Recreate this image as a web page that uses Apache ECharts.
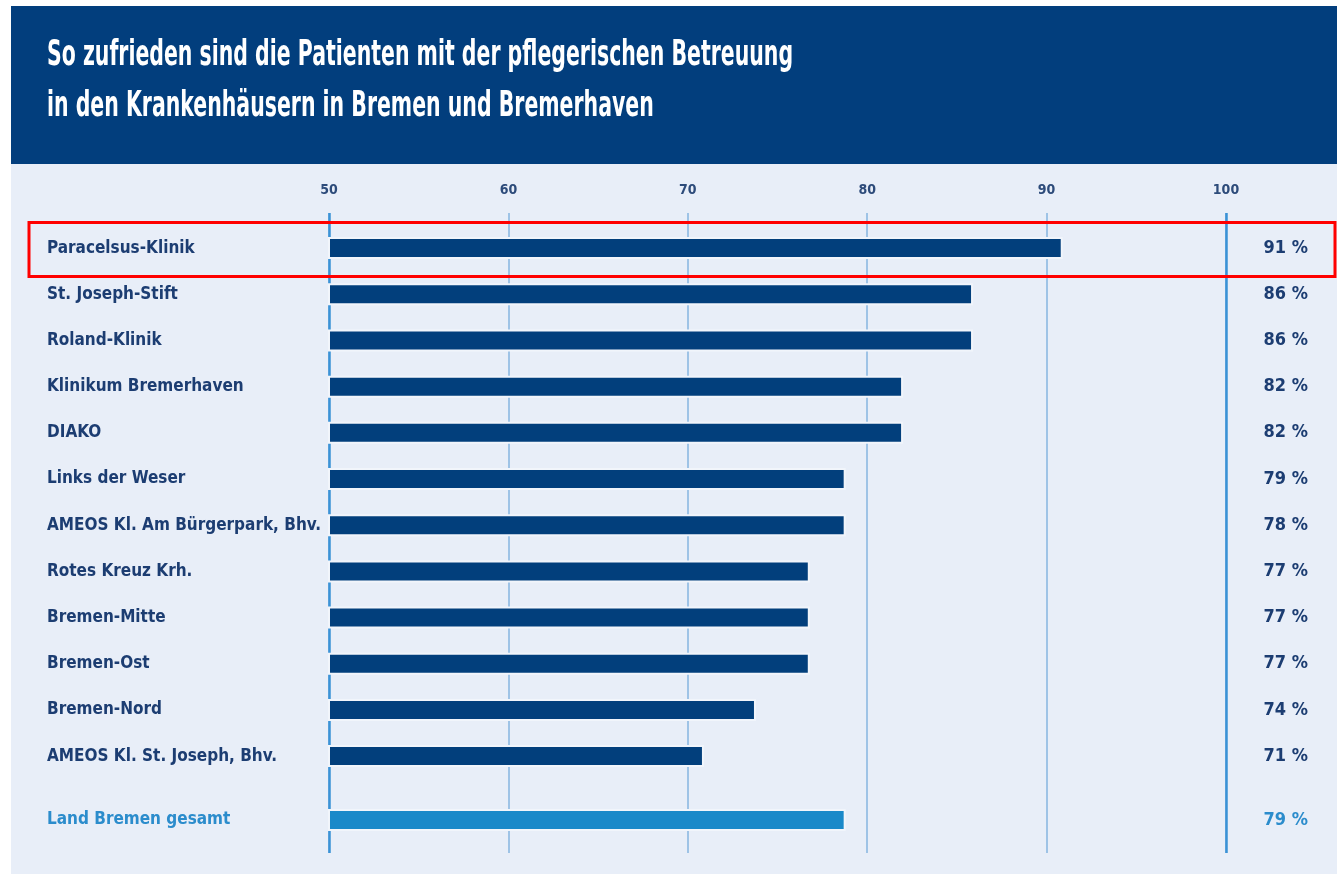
<!DOCTYPE html>
<html>
<head>
<meta charset="utf-8">
<script src="https://cdn.jsdelivr.net/npm/echarts@6/dist/echarts.min.js"></script>
<style>
  html, body { margin: 0; padding: 0; background: #ffffff; }
  #chart { width: 1337px; height: 874px; }
</style>
</head>
<body>
<div id="chart"></div>
<script>
// ---- data ----
const titleLines = [
  'So zufrieden sind die Patienten mit der pflegerischen Betreuung',
  'in den Krankenhäusern in Bremen und Bremerhaven'
];
const hospitals = [
  'Paracelsus-Klinik', 'St. Joseph-Stift', 'Roland-Klinik', 'Klinikum Bremerhaven',
  'DIAKO', 'Links der Weser', 'AMEOS Kl. Am Bürgerpark, Bhv.', 'Rotes Kreuz Krh.',
  'Bremen-Mitte', 'Bremen-Ost', 'Bremen-Nord', 'AMEOS Kl. St. Joseph, Bhv.'
];
const satisfaction = [90.9, 85.9, 85.9, 82.0, 82.0, 78.8, 78.8, 76.8, 76.8, 76.8, 73.8, 70.9];
const reportedPct = [91, 86, 86, 82, 82, 79, 78, 77, 77, 77, 74, 71];
const totalCategory = ['Land Bremen gesamt'];
const totalValue = [78.8];
const totalPct = [79];
const axisMin = 50, axisMax = 100, axisInterval = 10;

// ---- styles ----
const FONT = '"DejaVu Sans Condensed", "Liberation Sans Narrow", sans-serif';
const NAVY = '#1c3d72';
const BAR_DARK = '#023f7c';
const LIGHT_BLUE = '#1a89c9';
const LABEL_LIGHT = '#2b8ccc';
const PANEL = '#e8eef8';

const chart = echarts.init(document.getElementById('chart'));

const barCommon = {
  type: 'bar',
  barWidth: 22,
  itemStyle: { borderColor: '#f1f5fb', borderWidth: 2 },
  silent: true,
  animation: false
};

const option = {
  backgroundColor: '#ffffff',
  animation: false,
  graphic: [
    { type: 'rect', z: -10, shape: { x: 11, y: 6, width: 1326, height: 158 }, style: { fill: '#023e7d' } },
    { type: 'rect', z: -10, shape: { x: 11, y: 164, width: 1326, height: 710 }, style: { fill: PANEL } },
    { type: 'text', z: 50, x: 47, y: 56, scaleX: 0.632, style: { text: titleLines[0], fill: '#ffffff', font: 'bold 36px ' + FONT, verticalAlign: 'middle' } },
    { type: 'text', z: 50, x: 47, y: 107, scaleX: 0.632, style: { text: titleLines[1], fill: '#ffffff', font: 'bold 36px ' + FONT, verticalAlign: 'middle' } },
    { type: 'rect', z: 100, shape: { x: 29, y: 222.5, width: 1306, height: 54 }, style: { fill: 'none', stroke: '#ff0000', lineWidth: 3 } }
  ],
  grid: [
    { left: 329, right: 111, top: 213, height: 640 },
    { left: 329, right: 111, top: 225, height: 554.2 },
    { left: 329, right: 111, top: 797, height: 46 }
  ],
  xAxis: [
    {
      gridIndex: 0, type: 'value', min: axisMin, max: axisMax, interval: axisInterval, position: 'top',
      axisLine: { show: false }, axisTick: { show: false },
      axisLabel: { margin: 16, color: '#2d4b7a', fontFamily: FONT, fontWeight: 'bold', fontSize: 14 },
      splitLine: { show: true, lineStyle: { color: '#86b4e0', width: 1.5 } }
    },
    {
      gridIndex: 0, type: 'value', min: axisMin, max: axisMax, interval: axisMax - axisMin, position: 'bottom',
      axisLine: { show: false }, axisTick: { show: false }, axisLabel: { show: false },
      splitLine: { show: true, lineStyle: { color: '#3a92d6', width: 2.5 } }
    },
    { gridIndex: 1, type: 'value', min: axisMin, max: axisMax, show: false },
    { gridIndex: 2, type: 'value', min: axisMin, max: axisMax, show: false }
  ],
  yAxis: [
    { gridIndex: 0, type: 'value', show: false },
    {
      gridIndex: 1, type: 'category', inverse: true, data: hospitals, position: 'left',
      axisLine: { show: false }, axisTick: { show: false }, splitLine: { show: false },
      axisLabel: { align: 'left', margin: 282, color: NAVY, fontFamily: FONT, fontWeight: 'bold', fontSize: 17 }
    },
    {
      gridIndex: 1, type: 'category', inverse: true, data: reportedPct.map(v => v + ' %'), position: 'right',
      axisLine: { show: false }, axisTick: { show: false }, splitLine: { show: false },
      axisLabel: { align: 'right', margin: 82, color: NAVY, fontFamily: FONT, fontWeight: 'bold', fontSize: 18 }
    },
    {
      gridIndex: 2, type: 'category', inverse: true, data: totalCategory, position: 'left',
      axisLine: { show: false }, axisTick: { show: false }, splitLine: { show: false },
      axisLabel: { align: 'left', margin: 282, color: LABEL_LIGHT, fontFamily: FONT, fontWeight: 'bold', fontSize: 17 }
    },
    {
      gridIndex: 2, type: 'category', inverse: true, data: totalPct.map(v => v + ' %'), position: 'right',
      axisLine: { show: false }, axisTick: { show: false }, splitLine: { show: false },
      axisLabel: { align: 'right', margin: 82, color: LABEL_LIGHT, fontFamily: FONT, fontWeight: 'bold', fontSize: 18 }
    }
  ],
  series: [
    Object.assign({}, barCommon, {
      xAxisIndex: 2, yAxisIndex: 1, data: satisfaction,
      itemStyle: Object.assign({}, barCommon.itemStyle, { color: BAR_DARK })
    }),
    Object.assign({}, barCommon, {
      xAxisIndex: 3, yAxisIndex: 3, data: totalValue,
      itemStyle: Object.assign({}, barCommon.itemStyle, { color: LIGHT_BLUE })
    })
  ]
};

chart.setOption(option);
</script>
</body>
</html>
